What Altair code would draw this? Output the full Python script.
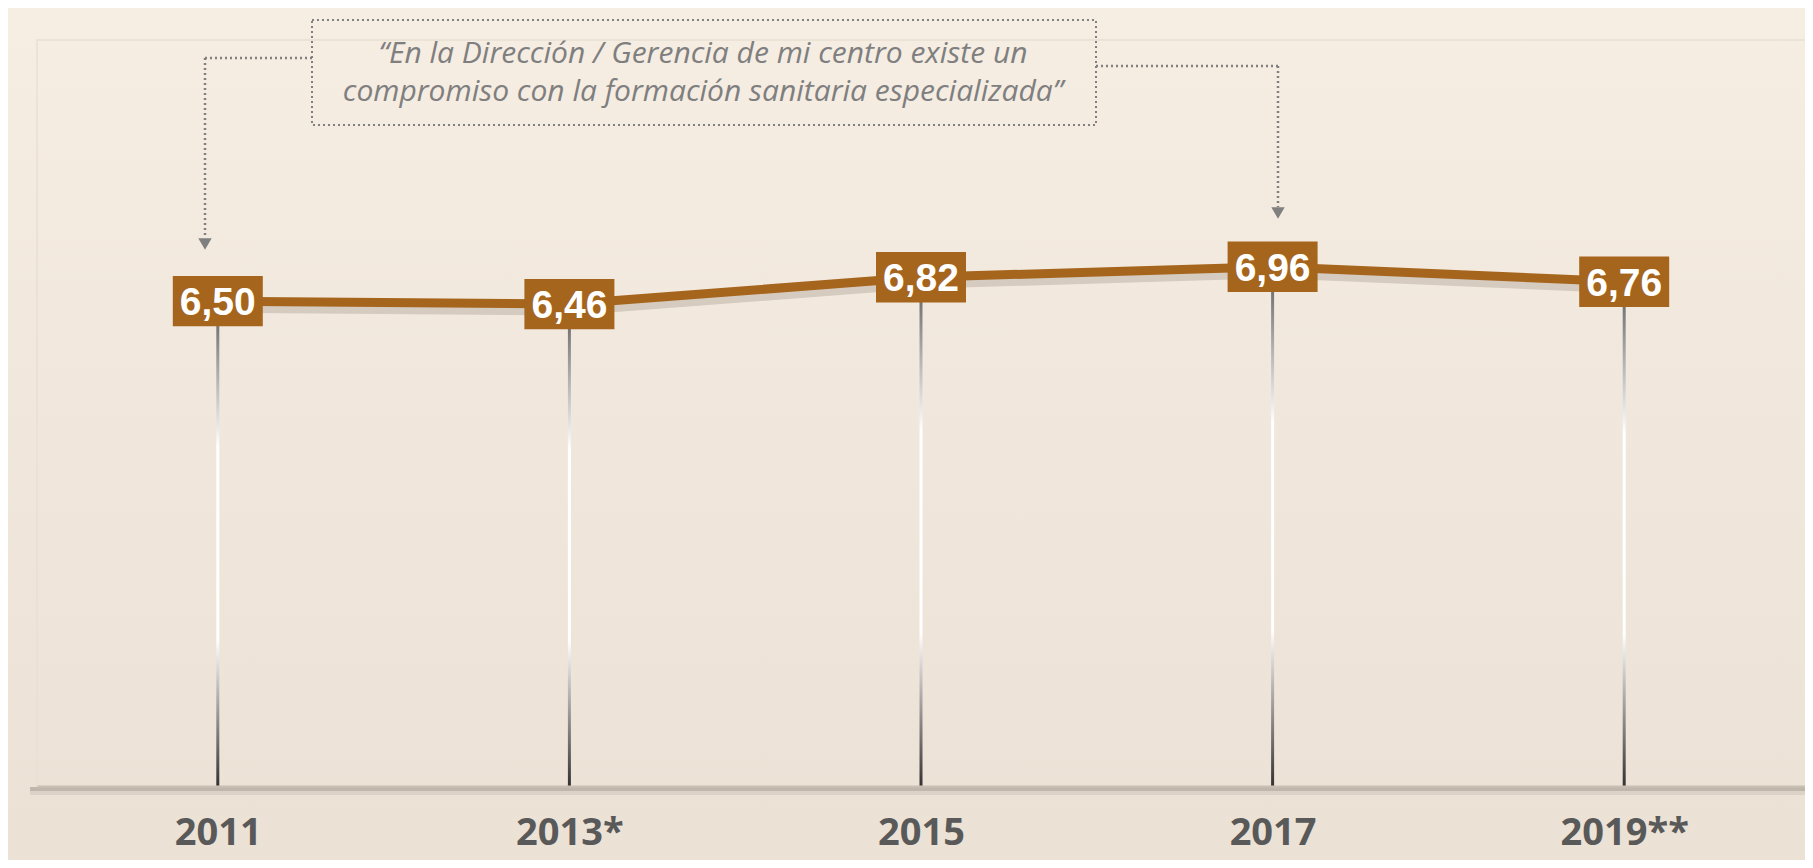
import json
import altair as alt
import pandas as pd

# ---- data ----
years = ["2011", "2013*", "2015", "2017", "2019**"]
values = [6.50, 6.46, 6.82, 6.96, 6.76]
labels = [f"{v:.2f}".replace(".", ",") for v in values]
quote_lines = [
    "\u201cEn la Direcci\u00f3n / Gerencia de mi centro existe un",
    "compromiso con la formaci\u00f3n sanitaria especializada\u201d",
]

df = pd.DataFrame({"idx": list(range(len(years))), "year": years,
                   "value": values, "label": labels})
one = pd.DataFrame({"k": [0]})

W, H = 1768, 746
BROWN = "#a6651d"
GRAY = "#7f7f7f"

xscale = alt.Scale(domain=[-0.5, len(years) - 0.5], nice=False, zero=False)
yscale = alt.Scale(domain=[0, 10], nice=False)
xaxis = alt.Axis(values=list(range(len(years))),
                 labelExpr=f"{json.dumps(years)}[datum.value]",
                 grid=False, ticks=False, domain=True, domainColor="#c9bfb3",
                 domainWidth=2, labelFont="Liberation Sans Narrow, Open Sans",
                 labelFontWeight="bold", labelFontSize=38, labelColor="#595959",
                 labelPadding=28, title=None, zindex=5)
X = alt.X("idx:Q", scale=xscale, axis=xaxis)
Y = alt.Y("value:Q", scale=yscale, axis=None)

base = alt.Chart(df)
ann = alt.Chart(one)

bg = ann.mark_rect(
    fill=alt.Gradient(gradient="linear", x1=0, y1=0, x2=0, y2=1,
                      stops=[alt.GradientStop(offset=0, color="#f6ede3"),
                             alt.GradientStop(offset=1, color="#ebe1d5")])
).encode(x=alt.value(-29), x2=alt.value(W + 29), y=alt.value(-32), y2=alt.value(H + 74))

panel_edge = ann.mark_rect(fill="#ffffff", fillOpacity=0, stroke="#e9dfd3", strokeWidth=1.5).encode(
    x=alt.value(0), x2=alt.value(W + 4), y=alt.value(0), y2=alt.value(H))

axis_shadow1 = ann.mark_rule(color="#6f665e", strokeWidth=4, opacity=0.35).encode(
    x=alt.value(-7), x2=alt.value(W + 2), y=alt.value(H + 3))
axis_shadow2 = ann.mark_rule(color="#6f665e", strokeWidth=4, opacity=0.12).encode(
    x=alt.value(-7), x2=alt.value(W + 2), y=alt.value(H + 7))

stem_grad = alt.Gradient(
    gradient="linear", x1=0, y1=0, x2=0, y2=1,
    stops=[alt.GradientStop(offset=0, color="#5a5a5a"),
           alt.GradientStop(offset=0.3, color="#ffffff"),
           alt.GradientStop(offset=0.7, color="#ffffff"),
           alt.GradientStop(offset=1, color="#333333")])
stems = base.mark_bar(width=3, fill=stem_grad).encode(x=X, y=Y, y2=alt.datum(0))

line_shadow = base.mark_line(color="#6e6052", strokeWidth=9, opacity=0.22, yOffset=7).encode(x=X, y=Y)
line = base.mark_line(color=BROWN, strokeWidth=9).encode(x=X, y=Y)

boxes = base.mark_point(shape="M-1,-0.56L1,-0.56L1,0.56L-1,0.56Z", size=90 * 90,
                        filled=True, color=BROWN, opacity=1, strokeWidth=0).encode(x=X, y=Y)
box_text = base.mark_text(font="Liberation Sans, Arial", fontWeight="bold", fontSize=39,
                          color="white", baseline="middle", dy=2).encode(x=X, y=Y, text="label")

dash = dict(color="#808080", strokeDash=[2, 3], strokeWidth=2.5)
quote_box = ann.mark_rect(fill="#ffffff", fillOpacity=0, stroke="#808080",
                          strokeDash=[2, 3], strokeWidth=2).encode(
    x=alt.value(275), x2=alt.value(1059), y=alt.value(-20), y2=alt.value(85))
quote = ann.mark_text(text=quote_lines, lineHeight=38, font="Liberation Sans Narrow, Open Sans",
                      fontStyle="italic", fontSize=30, color=GRAY, align="center",
                      baseline="middle").encode(x=alt.value(666), y=alt.value(14))
l_h = ann.mark_rule(**dash).encode(x=alt.value(168), x2=alt.value(275), y=alt.value(18))
l_v = ann.mark_rule(**dash).encode(x=alt.value(168), y=alt.value(18), y2=alt.value(198))
l_a = ann.mark_point(shape="triangle-down", size=180, filled=True, color=GRAY, opacity=1).encode(
    x=alt.value(168), y=alt.value(204))
r_h = ann.mark_rule(**dash).encode(x=alt.value(1059), x2=alt.value(1241), y=alt.value(26))
r_v = ann.mark_rule(**dash).encode(x=alt.value(1241), y=alt.value(26), y2=alt.value(167))
r_a = ann.mark_point(shape="triangle-down", size=180, filled=True, color=GRAY, opacity=1).encode(
    x=alt.value(1241), y=alt.value(173))

chart = alt.layer(
    bg, panel_edge, axis_shadow1, axis_shadow2, stems, line_shadow, line, boxes, box_text,
    quote_box, quote, l_h, l_v, l_a, r_h, r_v, r_a
).properties(
    width=W, height=H,
    padding={"left": 29, "top": 32, "right": 0, "bottom": 74},
    autosize=alt.AutoSizeParams(type="none"),
    background="#f1e8de",
).configure_view(stroke=None)

chart.save("out.html", embed_options={"renderer": "svg", "actions": False})
